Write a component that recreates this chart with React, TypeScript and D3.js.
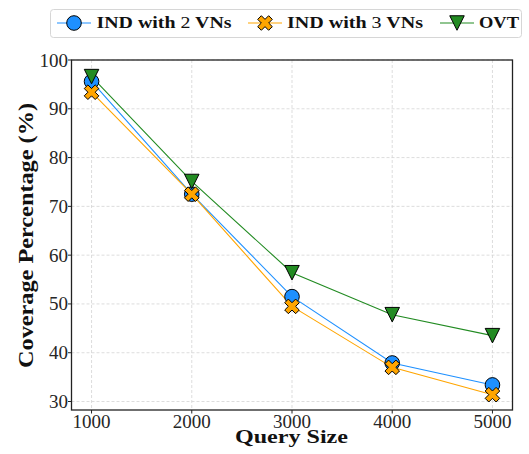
import React from "react";
import * as d3 from "d3";

const querySizes = [1000, 2000, 3000, 4000, 5000];
const ind2Values = [95.6, 72.5, 51.5, 37.9, 33.4];
const ind3Values = [93.4, 72.5, 49.5, 37.0, 31.4];
const ovtValues = [96.6, 75.1, 56.4, 47.8, 43.5];
const yTicks = [30, 40, 50, 60, 70, 80, 90, 100];
const xTicks = [1000, 2000, 3000, 4000, 5000];

const W = 529;
const H = 454;
const plot = { left: 71.5, right: 512.5, top: 60, bottom: 410 };

const serif = "'Liberation Serif', 'Times New Roman', serif";

const x = d3.scaleLinear().domain([800, 5200]).range([plot.left, plot.right]);
const y = d3.scaleLinear().domain([28.26, 100]).range([plot.bottom, plot.top]);

type Shape = "circle" | "x" | "tri";

const series: { name: string; num: string; values: number[]; color: string; shape: Shape }[] = [
  { name: "IND with ", num: "2", values: ind2Values, color: "#1e90ff", shape: "circle" },
  { name: "IND with ", num: "3", values: ind3Values, color: "#ffa500", shape: "x" },
  { name: "OVT", num: "", values: ovtValues, color: "#228b22", shape: "tri" },
];

// filled "X" marker: a thick plus rotated by 45 degrees
const plusPts: [number, number][] = [
  [-1, -3], [1, -3], [1, -1], [3, -1], [3, 1], [1, 1],
  [1, 3], [-1, 3], [-1, 1], [-3, 1], [-3, -1], [-1, -1],
];
function xPath(size: number) {
  const c = Math.SQRT1_2;
  const pts = plusPts.map(([a, b]) => {
    const px = (a / 6) * size;
    const py = (b / 6) * size;
    return [px * c - py * c, px * c + py * c];
  });
  return "M" + pts.map((p) => p.join(",")).join("L") + "Z";
}
function triPath(size: number) {
  const h = size / 2;
  return `M0,${h}L${-h},${-h}L${h},${-h}Z`;
}

function Marker({ shape, color, cx, cy }: { shape: Shape; color: string; cx: number; cy: number }) {
  if (shape === "circle")
    return <circle cx={cx} cy={cy} r={7.3} fill={color} stroke="#000" strokeWidth={1} />;
  if (shape === "x")
    return (
      <path d={xPath(15.5)} transform={`translate(${cx},${cy})`} fill={color} stroke="#000" strokeWidth={1} strokeLinejoin="miter" />
    );
  return <path d={triPath(14.5)} transform={`translate(${cx},${cy})`} fill={color} stroke="#000" strokeWidth={1} />;
}

export default function App() {
  const line = d3
    .line<number>()
    .x((_, i) => x(querySizes[i]))
    .y((v) => y(v));

  const legendItems = [
    { lx: 57, tx: 96.5, tlen: 135 },
    { lx: 248, tx: 287, tlen: 136 },
    { lx: 440, tx: 479, tlen: 40 },
  ];

  return (
    <svg width={W} height={H} style={{ position: "absolute", left: 0, top: 0 }} fontFamily={serif}>
      <rect width={W} height={H} fill="#fff" />
      {/* grid */}
      <g stroke="#d4d4d4" strokeWidth={0.8} strokeDasharray="3,2">
        {xTicks.map((t) => (
          <line key={"gx" + t} x1={x(t)} x2={x(t)} y1={plot.top} y2={plot.bottom} />
        ))}
        {yTicks.map((t) => (
          <line key={"gy" + t} x1={plot.left} x2={plot.right} y1={y(t)} y2={y(t)} />
        ))}
      </g>
      {/* series lines */}
      {series.map((s) => (
        <path key={s.name + s.num + "l"} d={line(s.values) || ""} fill="none" stroke={s.color} strokeWidth={1.1} />
      ))}
      {/* markers */}
      {series.map((s) => (
        <g key={s.name + s.num + "m"}>
          {s.values.map((v, i) => (
            <Marker key={i} shape={s.shape} color={s.color} cx={x(querySizes[i])} cy={y(v)} />
          ))}
        </g>
      ))}
      {/* spines */}
      <rect
        x={plot.left}
        y={plot.top}
        width={plot.right - plot.left}
        height={plot.bottom - plot.top}
        fill="none"
        stroke="#222"
        strokeWidth={1.3}
      />
      {/* ticks */}
      <g stroke="#222" strokeWidth={1}>
        {xTicks.map((t) => (
          <line key={"tx" + t} x1={x(t)} x2={x(t)} y1={plot.bottom} y2={plot.bottom + 3.5} />
        ))}
        {yTicks.map((t) => (
          <line key={"ty" + t} x1={plot.left - 3.5} x2={plot.left} y1={y(t)} y2={y(t)} />
        ))}
      </g>
      <g fill="#262626" fontSize={19}>
        {xTicks.map((t) => (
          <text key={"lx" + t} x={x(t)} y={428} textAnchor="middle" textLength={38} lengthAdjust="spacingAndGlyphs">
            {t}
          </text>
        ))}
        {yTicks.map((t) => (
          <text key={"ly" + t} x={68} y={y(t) + 6.5} textAnchor="end">
            {t}
          </text>
        ))}
      </g>
      {/* axis titles */}
      <text x={291.5} y={443} textAnchor="middle" fontSize={19.5} fontWeight="bold" fill="#111" textLength={113} lengthAdjust="spacingAndGlyphs">
        Query Size
      </text>
      <text
        transform={`translate(33,235.5) rotate(-90)`}
        textAnchor="middle"
        fontSize={20}
        fontWeight="bold"
        fill="#111"
        textLength={265}
        lengthAdjust="spacingAndGlyphs"
      >
        Coverage Percentage (%)
      </text>
      {/* legend */}
      <rect x={50.5} y={9.5} width={471} height={28} rx={3} fill="#fff" fillOpacity={0.85} stroke="#d6d6d6" strokeWidth={1} />
      {series.map((s, i) => {
        const it = legendItems[i];
        const cy = 23;
        return (
          <g key={"lg" + i}>
            <line x1={it.lx} x2={it.lx + 34} y1={cy} y2={cy} stroke={s.color} strokeWidth={1.1} />
            <Marker shape={s.shape} color={s.color} cx={it.lx + 17} cy={cy} />
            <text x={it.tx} y={28} fontSize={17} fontWeight="bold" fill="#111" textLength={it.tlen} lengthAdjust="spacingAndGlyphs">
              {s.name}
              {s.num && <tspan fontWeight="normal">{s.num}</tspan>}
              {s.num && " VNs"}
            </text>
          </g>
        );
      })}
    </svg>
  );
}
